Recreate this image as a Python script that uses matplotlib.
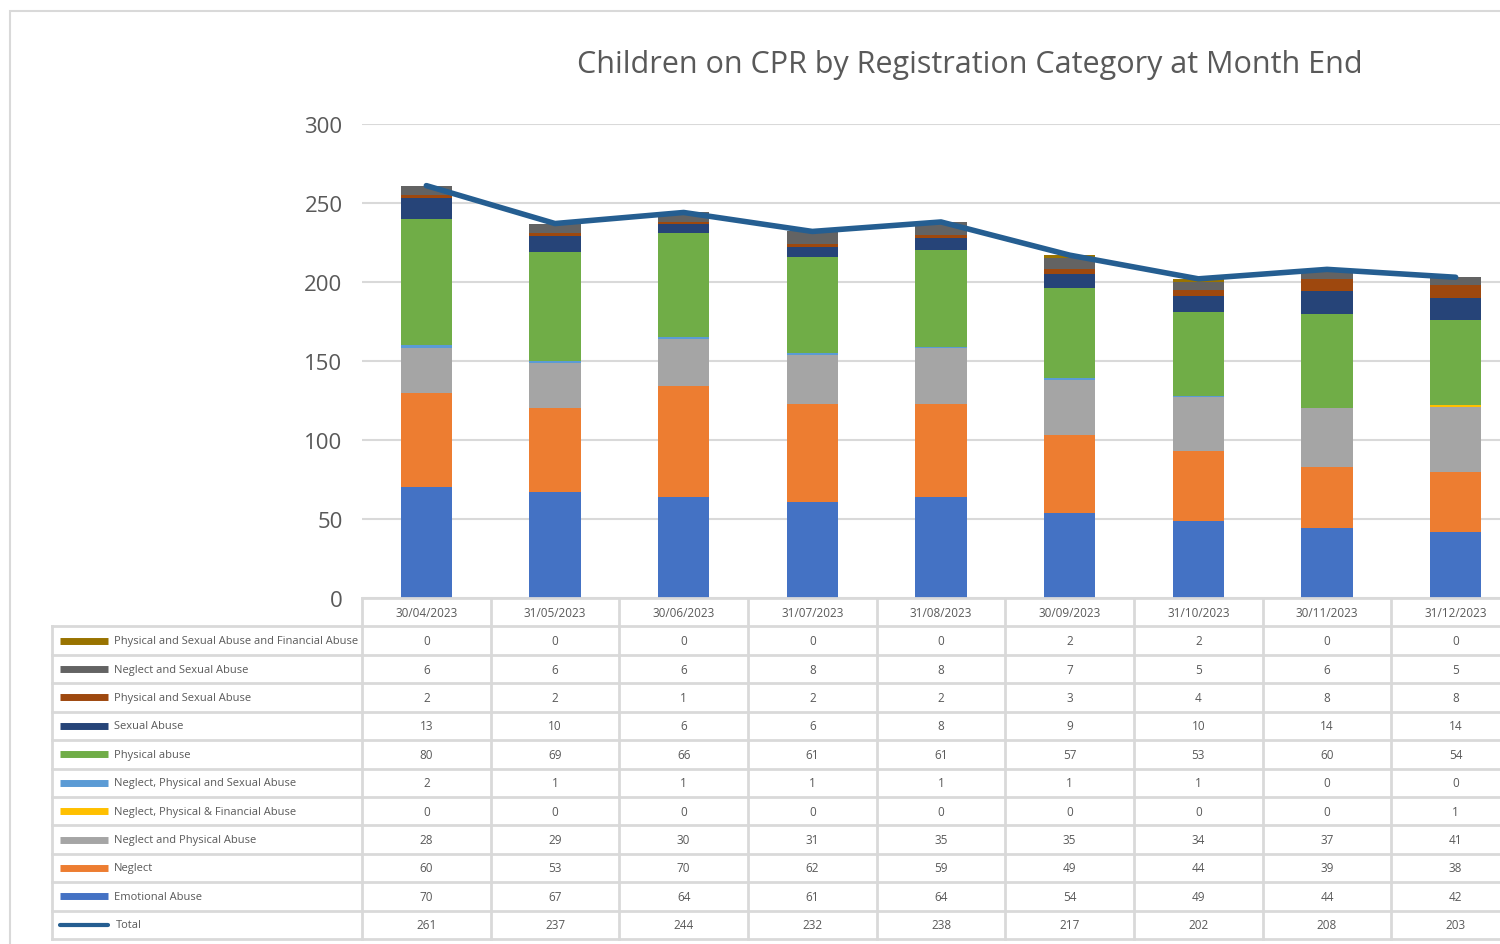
import matplotlib.pyplot as plt
from matplotlib.patches import Rectangle

plt.rcParams['font.family'] = ['Open Sans', 'DejaVu Sans']

dates = ["30/04/2023", "31/05/2023", "30/06/2023", "31/07/2023", "31/08/2023",
         "30/09/2023", "31/10/2023", "30/11/2023", "31/12/2023"]

emotional = [70, 67, 64, 61, 64, 54, 49, 44, 42]
neglect = [60, 53, 70, 62, 59, 49, 44, 39, 38]
neglect_physical = [28, 29, 30, 31, 35, 35, 34, 37, 41]
neglect_phys_fin = [0, 0, 0, 0, 0, 0, 0, 0, 1]
neglect_phys_sex = [2, 1, 1, 1, 1, 1, 1, 0, 0]
physical = [80, 69, 66, 61, 61, 57, 53, 60, 54]
sexual = [13, 10, 6, 6, 8, 9, 10, 14, 14]
phys_sex = [2, 2, 1, 2, 2, 3, 4, 8, 8]
neglect_sex = [6, 6, 6, 8, 8, 7, 5, 6, 5]
phys_sex_fin = [0, 0, 0, 0, 0, 2, 2, 0, 0]
total = [261, 237, 244, 232, 238, 217, 202, 208, 203]

# bottom-to-top stacking order
series = [
    ("Emotional Abuse", emotional, "#4472C4"),
    ("Neglect", neglect, "#ED7D31"),
    ("Neglect and Physical Abuse", neglect_physical, "#A5A5A5"),
    ("Neglect, Physical & Financial Abuse", neglect_phys_fin, "#FFC000"),
    ("Neglect, Physical and Sexual Abuse", neglect_phys_sex, "#5B9BD5"),
    ("Physical abuse", physical, "#70AD47"),
    ("Sexual Abuse", sexual, "#264478"),
    ("Physical and Sexual Abuse", phys_sex, "#9E480E"),
    ("Neglect and Sexual Abuse", neglect_sex, "#636363"),
    ("Physical and Sexual Abuse and Financial Abuse", phys_sex_fin, "#997300"),
]
total_color = "#255E91"
grid_c = "#D9D9D9"
text_c = "#595959"

W, H = 1500, 945
fig = plt.figure(figsize=(W / 100, H / 100), dpi=100)

# chart area border
fig.patches.append(Rectangle((10 / W, -0.1), 1.2, (H - 12) / H + 0.1, transform=fig.transFigure,
                             fill=False, edgecolor=grid_c, linewidth=1.5))

plot_l, plot_r, plot_t, plot_b = 362, 1520, 125, 599
ax = fig.add_axes([plot_l / W, (H - plot_b) / H, (plot_r - plot_l) / W, (plot_b - plot_t) / H])
n = len(dates)
x = list(range(n))
bottom = [0] * n
for name, vals, col in series:
    ax.bar(x, vals, 0.4, bottom=bottom, color=col, zorder=2)
    bottom = [b + v for b, v in zip(bottom, vals)]
ax.plot(x, total, color=total_color, linewidth=4, zorder=3, solid_capstyle='round')

ax.set_xlim(-0.5, n - 0.5)
ax.set_ylim(0, 300)
ax.set_yticks(range(0, 301, 50))
ax.yaxis.grid(True, color=grid_c, linewidth=1.5, zorder=0)
ax.set_axisbelow(True)
ax.tick_params(axis='y', length=0, pad=14, labelsize=16, labelcolor=text_c)
ax.set_xticks([])
for s in ["top", "right", "left"]:
    ax.spines[s].set_visible(False)
ax.spines["bottom"].set_color(grid_c)
ax.spines["bottom"].set_linewidth(2)

fig.text(970 / W, 1 - 65 / H, "Children on CPR by Registration Category at Month End",
         ha='center', va='center', fontsize=22, color=text_c)

# data table below the plot
tab_l, tab_b = 52, 940
cat_px = (plot_r - plot_l) / n
lab_w = (plot_l - tab_l) / cat_px
nrows = 12
axt = fig.add_axes([tab_l / W, (H - tab_b) / H, (plot_r - tab_l) / W, (tab_b - plot_b) / H])
axt.set_xlim(-0.5 - lab_w, n - 0.5)
axt.set_ylim(nrows, 0)
axt.axis('off')

lw = 2
# vertical lines
for k in range(n + 1):
    axt.plot([k - 0.5, k - 0.5], [0, nrows], color=grid_c, lw=lw, clip_on=False)
axt.plot([-0.5 - lab_w] * 2, [1, nrows], color=grid_c, lw=lw, clip_on=False)
# horizontal lines
for r in range(1, nrows + 1):
    axt.plot([-0.5 - lab_w, n - 0.5], [r, r], color=grid_c, lw=lw, clip_on=False)

for i, d in enumerate(dates):
    axt.text(i, 0.5, d, ha='center', va='center', fontsize=8.5, color=text_c)

rows = [(name, vals, col) for name, vals, col in reversed(series)]
rows.append(("Total", total, total_color))
px = 1 / cat_px
for r, (name, vals, col) in enumerate(rows, start=1):
    yc = r + 0.5
    x0 = -0.5 - lab_w + 8 * px
    x1 = x0 + 48 * px
    if name == "Total":
        axt.plot([x0, x1], [yc, yc], color=col, lw=3, solid_capstyle='round')
        axt.text(x1 + 8 * px, yc, name, ha='left', va='center', fontsize=8, color=text_c)
    else:
        axt.plot([x0, x1], [yc, yc], color=col, lw=5, solid_capstyle='butt')
        axt.text(x1 + 6 * px, yc, name, ha='left', va='center', fontsize=8, color=text_c)
    for i, v in enumerate(vals):
        axt.text(i, yc, str(v), ha='center', va='center', fontsize=8.5, color=text_c)

fig.savefig("out.png", dpi=100)
